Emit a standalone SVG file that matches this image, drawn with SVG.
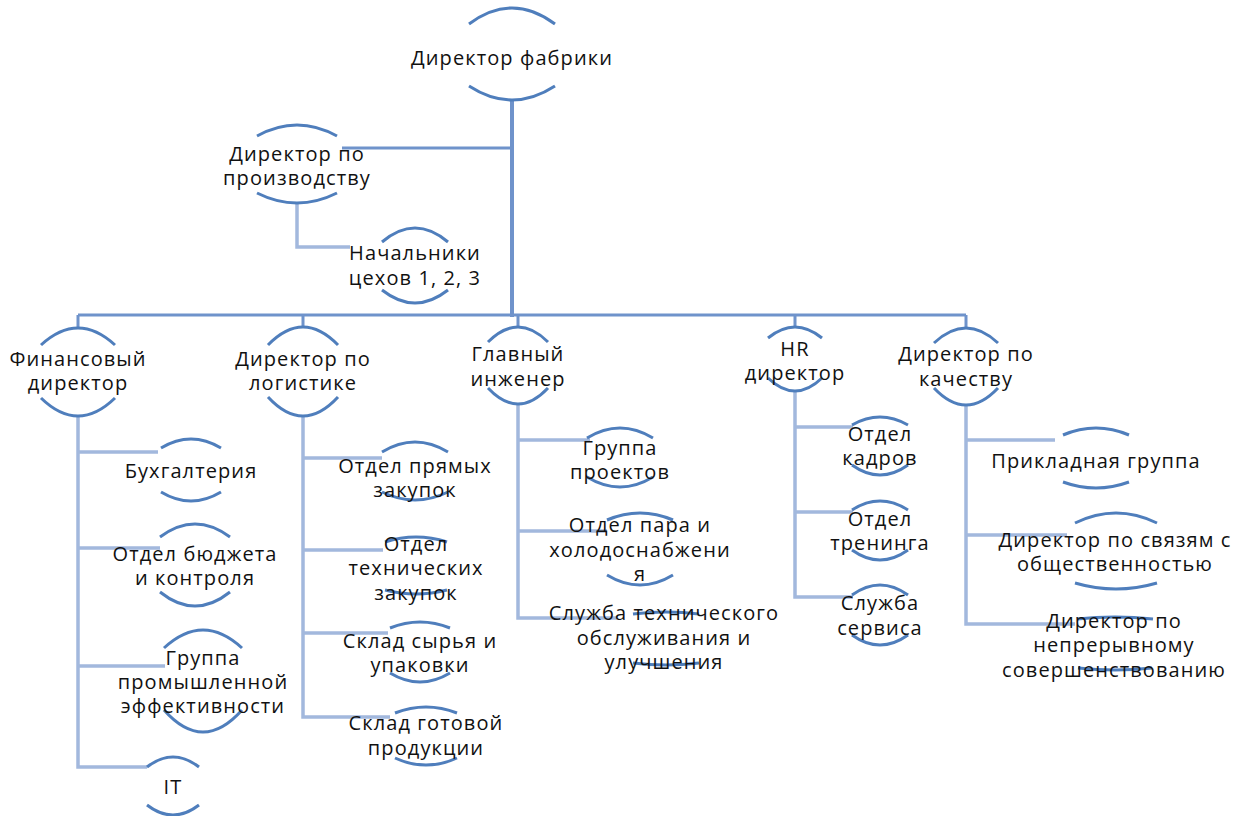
<svg xmlns="http://www.w3.org/2000/svg" width="1248" height="816" viewBox="0 0 1248 816">
<style>
.arc{fill:none;stroke:#4F7EBC;stroke-width:3;stroke-linecap:butt}
.trunk{fill:none;stroke:#6F93CB;stroke-width:4}
.bar{fill:none;stroke:#6F93CB;stroke-width:3}
.sub{fill:none;stroke:#A2B8DD;stroke-width:3.5}
text{font-family:"Open Sans","Noto Sans",sans-serif;font-size:20px;letter-spacing:1.1px;fill:#111;text-anchor:middle;dominant-baseline:central}
</style>
<rect width="1248" height="816" fill="#fff"/>
<g id="connectors">
<path class="trunk" d="M512 100V317"/>
<path class="bar" d="M342 148H512"/>
<path class="bar" d="M78 315H966"/>
<path class="bar" d="M78 315V329M303 315V328M518 315V328M795 315V328M966 315V329"/>
<path class="sub" d="M297 203V247H350"/>
<path class="sub" d="M78 417V767H147M78 452H158M78 548H160M78 666H165"/>
<path class="sub" d="M303 416V717H390M303 458H382M303 550H383M303 633H388"/>
<path class="sub" d="M518 405V618H617M518 440H590M518 531H607"/>
<path class="sub" d="M795 392V597H853M795 427H853M795 512H853"/>
<path class="sub" d="M966 405V624H1075M966 440H1055M966 535H1067"/>
</g>
<g id="n-director">
<path class="arc" d="M469 24Q512 -8 555 24"/>
<path class="arc" d="M469 86Q512 114 555 86"/>
<text x="512" y="57">Директор фабрики</text>
</g>
<g id="n-production">
<path class="arc" d="M257 136Q297 114 337 136"/>
<path class="arc" d="M257 193Q297 213 337 193"/>
<text x="297" y="153">Директор по<tspan x="297" dy="24">производству</tspan></text>
</g>
<g id="n-shops">
<path class="arc" d="M382 242Q415 214 448 242"/>
<path class="arc" d="M382 290Q415 316 448 290"/>
<text x="415" y="252">Начальники<tspan x="415" dy="25">цехов 1, 2, 3</tspan></text>
</g>
<g id="n-finance">
<path class="arc" d="M41 345Q78 311 115 345"/>
<path class="arc" d="M41 398Q78 434 115 398"/>
<text x="78" y="358">Финансовый<tspan x="78" dy="24">директор</tspan></text>
</g>
<g id="n-logistics">
<path class="arc" d="M268 345Q303 309 338 345"/>
<path class="arc" d="M268 397Q303 435 338 397"/>
<text x="303" y="358">Директор по<tspan x="303" dy="24">логистике</tspan></text>
</g>
<g id="n-engineer">
<path class="arc" d="M488 342Q518 312 548 342"/>
<path class="arc" d="M488 388Q518 420 548 388"/>
<text x="518" y="353">Главный<tspan x="518" dy="25">инженер</tspan></text>
</g>
<g id="n-hr">
<path class="arc" d="M768 338Q795 316 822 338"/>
<path class="arc" d="M768 378Q795 404 822 378"/>
<text x="795" y="348">HR<tspan x="795" dy="24">директор</tspan></text>
</g>
<g id="n-quality">
<path class="arc" d="M934 343Q966 313 998 343"/>
<path class="arc" d="M934 388Q966 422 998 388"/>
<text x="966" y="353">Директор по<tspan x="966" dy="25">качеству</tspan></text>
</g>
<g id="n-accounting">
<path class="arc" d="M161 448Q191 430 221 448"/>
<path class="arc" d="M161 492Q191 510 221 492"/>
<text x="191" y="470">Бухгалтерия</text>
</g>
<g id="n-budget">
<path class="arc" d="M160 537Q195 511 230 537"/>
<path class="arc" d="M160 592Q195 620 230 592"/>
<text x="195" y="553">Отдел бюджета<tspan x="195" dy="24">и контроля</tspan></text>
</g>
<g id="n-efficiency">
<path class="arc" d="M164 648Q203 612 242 648"/>
<path class="arc" d="M164 710Q203 754 242 710"/>
<text x="203" y="657">Группа<tspan x="203" dy="24">промышленной</tspan><tspan x="203" dy="24">эффективности</tspan></text>
</g>
<g id="n-it">
<path class="arc" d="M147 767Q173 747 199 767"/>
<path class="arc" d="M147 805Q173 825 199 805"/>
<text x="173" y="786">IT</text>
</g>
<g id="n-direct-purchase">
<path class="arc" d="M382 452Q415 432 448 452"/>
<path class="arc" d="M382 492Q415 508 448 492"/>
<text x="415" y="465">Отдел прямых<tspan x="415" dy="24">закупок</tspan></text>
</g>
<g id="n-tech-purchase">
<path class="arc" d="M385 542Q416 532 447 542"/>
<path class="arc" d="M385 590Q416 598 447 590"/>
<text x="416" y="543">Отдел<tspan x="416" dy="24">технических</tspan><tspan x="416" dy="25">закупок</tspan></text>
</g>
<g id="n-raw-warehouse">
<path class="arc" d="M390 628Q420 616 450 628"/>
<path class="arc" d="M390 673Q420 691 450 673"/>
<text x="420" y="640">Склад сырья и<tspan x="420" dy="24">упаковки</tspan></text>
</g>
<g id="n-finished-warehouse">
<path class="arc" d="M395 713Q426 701 457 713"/>
<path class="arc" d="M395 758Q426 772 457 758"/>
<text x="426" y="722">Склад готовой<tspan x="426" dy="25">продукции</tspan></text>
</g>
<g id="n-projects">
<path class="arc" d="M587 438Q620 418 653 438"/>
<path class="arc" d="M587 477Q620 497 653 477"/>
<text x="620" y="447">Группа<tspan x="620" dy="24">проектов</tspan></text>
</g>
<g id="n-steam">
<path class="arc" d="M607 520Q640 506 673 520"/>
<path class="arc" d="M607 575Q640 595 673 575"/>
<text x="640" y="524">Отдел пара и<tspan x="640" dy="25">холодоснабжени</tspan><tspan x="640" dy="24">я</tspan></text>
</g>
<g id="n-maintenance">
<path class="arc" d="M633 614Q666 610 699 614"/>
<path class="arc" d="M633 663Q666 667 699 663"/>
<text x="664" y="612">Служба технического<tspan x="664" dy="25">обслуживания и</tspan><tspan x="664" dy="24">улучшения</tspan></text>
</g>
<g id="n-personnel">
<path class="arc" d="M852 425Q880 409 908 425"/>
<path class="arc" d="M852 465Q880 485 908 465"/>
<text x="880" y="433">Отдел<tspan x="880" dy="24">кадров</tspan></text>
</g>
<g id="n-training">
<path class="arc" d="M852 510Q880 492 908 510"/>
<path class="arc" d="M852 550Q880 570 908 550"/>
<text x="880" y="518">Отдел<tspan x="880" dy="24">тренинга</tspan></text>
</g>
<g id="n-service">
<path class="arc" d="M852 595Q880 575 908 595"/>
<path class="arc" d="M852 635Q880 655 908 635"/>
<text x="880" y="602">Служба<tspan x="880" dy="25">сервиса</tspan></text>
</g>
<g id="n-applied">
<path class="arc" d="M1063 435Q1096 421 1129 435"/>
<path class="arc" d="M1063 482Q1096 494 1129 482"/>
<text x="1096" y="460">Прикладная группа</text>
</g>
<g id="n-pr">
<path class="arc" d="M1075 523Q1116 503 1157 523"/>
<path class="arc" d="M1075 583Q1116 595 1157 583"/>
<text x="1115" y="539">Директор по связям с<tspan x="1115" dy="24">общественностью</tspan></text>
</g>
<g id="n-improvement">
<path class="arc" d="M1077 619Q1115 615 1153 619"/>
<path class="arc" d="M1078 668Q1115 672 1152 668"/>
<text x="1114" y="620">Директор по<tspan x="1114" dy="24">непрерывному</tspan><tspan x="1114" dy="25">совершенствованию</tspan></text>
</g>
</svg>
